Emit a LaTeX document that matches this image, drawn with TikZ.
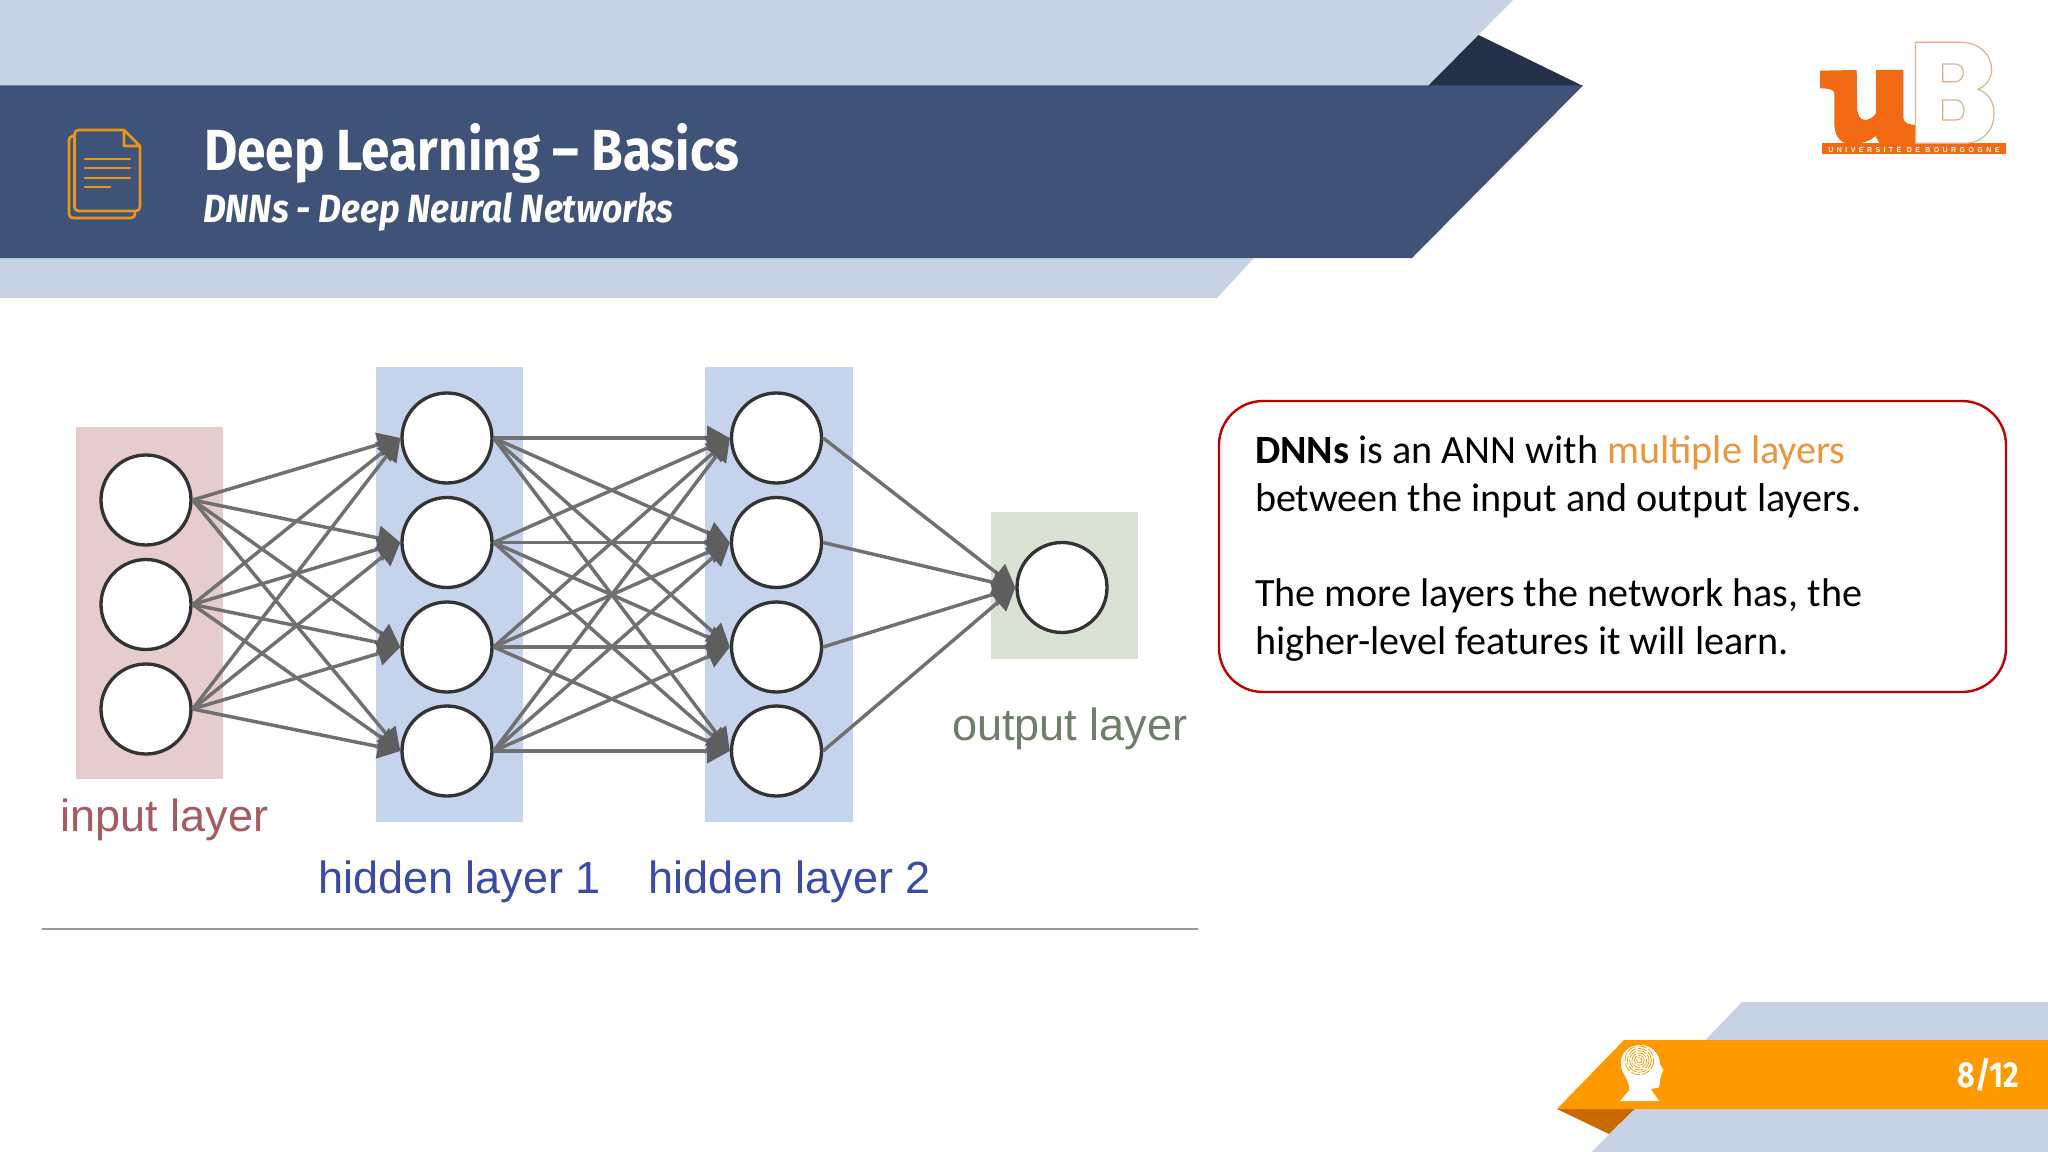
\documentclass[tikz,border=0pt]{standalone}
\usepackage{fontspec}
\usetikzlibrary{arrows.meta}
\setmainfont{Carlito}
\newfontfamily\ttlfont[FakeStretch=0.885]{Fira Sans}
\newfontfamily\subfont[FakeStretch=0.9]{Fira Sans}
\newfontfamily\pagefont[FakeStretch=0.84]{Fira Sans}
\newfontfamily\arialfont{Liberation Sans}
\newfontfamily\logofont[LetterSpace=48]{Liberation Sans}
\definecolor{bandlight}{HTML}{C7D3E5}
\definecolor{bandmain}{HTML}{3F5277}
\definecolor{banddark}{HTML}{243048}
\definecolor{footorange}{HTML}{FF9900}
\definecolor{footdark}{HTML}{C96A00}
\definecolor{iconorange}{HTML}{E8961E}
\definecolor{logoorange}{HTML}{F26A14}
\definecolor{logoedge}{HTML}{E2AE90}
\definecolor{inputbg}{HTML}{E6CCCC}
\definecolor{hiddenbg}{HTML}{C5D3EC}
\definecolor{outputbg}{HTML}{DAE2D3}
\definecolor{inputtxt}{HTML}{A85A62}
\definecolor{hiddentxt}{HTML}{3A4AA8}
\definecolor{outputtxt}{HTML}{6F7D6B}
\definecolor{edgegray}{HTML}{707070}
\definecolor{headgray}{HTML}{5E5E5E}
\definecolor{boxred}{HTML}{C00000}
\definecolor{hlorange}{HTML}{E9973A}
\tikzset{
  neuron/.style={circle,draw=black!80,line width=2.5pt,fill=white,minimum size=67.5pt,inner sep=0pt},
  netedge/.style={draw=edgegray,line width=2.6pt,-{Triangle[length=17pt,width=18pt,fill=headgray,color=headgray]},shorten >=0pt},
  plainlabel/.style={anchor=base west,inner sep=0pt,outer sep=0pt},
  netlabel/.style={plainlabel,font=\arialfont\fontsize{33.8}{40}\selectfont},
  bodytext/.style={plainlabel,font=\fontsize{30.1}{36}\selectfont},
  docline/.style={draw=iconorange,line width=2pt,line cap=round},
}
\begin{document}
\begin{tikzpicture}[x=0.75pt,y=-0.75pt]
\useasboundingbox (0,0) rectangle (2048,1152);
\fill[white] (0,0) rectangle (2048,1152);
% header
\fill[bandlight] (0,0) -- (1513,0) -- (1428,86) -- (0,86) -- cycle;
\fill[bandlight] (0,258) -- (1254,258) -- (1217,298) -- (0,298) -- cycle;
\fill[banddark] (1478.5,35) -- (1583,86) -- (1428,86) -- cycle;
\fill[bandmain] (0,85.5) -- (1583,85.5) -- (1412,258) -- (0,258) -- cycle;
% doc icon
\draw[iconorange,line width=2pt,rounded corners=3pt] (74.5,136) -- (69,136) -- (69,218) -- (135,218) -- (135,211);
\draw[iconorange,line width=2pt,line join=round,rounded corners=3pt] (124,130) -- (74.5,130) -- (74.5,211) -- (140,211) -- (140,146);
\draw[iconorange,line width=2pt,line join=round] (124,130) -- (140,146) -- (124,146) -- cycle;
\draw[docline] (85,159) -- (130,159);
\draw[docline] (85,168) -- (130,168);
\draw[docline] (85,178) -- (130,178);
\draw[docline] (85,187) -- (110,187);
\node[plainlabel,text=white,font=\ttlfont\bfseries\fontsize{43.5}{50}\selectfont] (title) at (204,171) {Deep Learning – Basics};
\node[plainlabel,text=white,font=\subfont\bfseries\itshape\fontsize{29.5}{36}\selectfont] (subtitle) at (203,222) {DNNs - Deep Neural Networks};
% logo
\begin{scope}[shift={(1800,30)},x=0.25pt,y=-0.25pt]
\fill[logoorange] (60,122) -- (170,120) -- (172,240) .. controls (175,275) and (205,280) .. (228,250) -- (228,120) -- (310,120) -- (310,265) .. controls (312,280) and (330,285) .. (350,285) -- (350,342) -- (240,342) -- (226,318) .. controls (210,335) and (180,342) .. (150,342) .. controls (115,340) and (103,310) .. (103,280) -- (103,190) .. controls (103,178) and (85,175) .. (60,175) -- cycle;
\fill[logoorange] (65,340) rectangle (617,372);
\filldraw[fill=white,draw=logoedge,line width=0.9pt,even odd rule] (346,340) -- (346,37) -- (480,37) .. controls (540,37) and (575,75) .. (575,120) .. controls (575,145) and (560,165) .. (535,178) .. controls (565,190) and (582,215) .. (582,250) .. controls (582,305) and (545,340) .. (490,340) -- cycle
 (428,102) -- (465,102) .. controls (482,102) and (490,115) .. (490,128) .. controls (490,143) and (480,155) .. (465,155) -- (428,155) -- cycle
 (428,210) -- (468,210) .. controls (484,210) and (492,225) .. (492,240) .. controls (492,258) and (484,270) .. (468,270) -- (428,270) -- cycle;
\node[inner sep=0pt,text=white,font=\logofont\bfseries\fontsize{5.3}{6}\selectfont] (univ) at (342,357) {UNIVERSITÉ DE BOURGOGNE};
\end{scope}
% layer backgrounds
\fill[inputbg] (76,426.5) rectangle (222.5,778.6);
\fill[hiddenbg] (376,366.5) rectangle (523,821.5);
\fill[hiddenbg] (705,366.5) rectangle (853,821.5);
\fill[outputbg] (990.5,512) rectangle (1138,659);
% neurons
\node[neuron] (i1) at (146,500) {};
\node[neuron] (i2) at (146,604.5) {};
\node[neuron] (i3) at (146,709) {};
\node[neuron] (a1) at (447,438) {};
\node[neuron] (a2) at (447,542.5) {};
\node[neuron] (a3) at (447,647) {};
\node[neuron] (a4) at (447,751) {};
\node[neuron] (b1) at (776.5,438) {};
\node[neuron] (b2) at (776.5,542.5) {};
\node[neuron] (b3) at (776.5,647) {};
\node[neuron] (b4) at (776.5,751) {};
\node[neuron] (o1) at (1062,587.5) {};
\foreach \s in {1,2,3} \foreach \t in {1,2,3,4} \draw[netedge] (i\s.east) -- (a\t.west);
\foreach \s in {1,2,3,4} \foreach \t in {1,2,3,4} \draw[netedge] (a\s.east) -- (b\t.west);
\foreach \s in {1,2,3,4} \draw[netedge] (b\s.east) -- (o1.west);
% labels
\node[netlabel,text=inputtxt] (linput) at (60.6,831.5) {input layer};
\node[netlabel,text=hiddentxt] (lh1) at (318,893) {hidden layer 1};
\node[netlabel,text=hiddentxt] (lh2) at (648,893) {hidden layer 2};
\node[netlabel,text=outputtxt] (loutput) at (952,740) {output layer};
\draw[color=black!40,line width=1.5pt] (42,929) -- (1198,929);
% text box
\draw[boxred,line width=1.8pt,rounded corners=33pt] (1219,401) rectangle (2006,692);
\node[bodytext] (t1) at (1255,463) {\textbf{DNNs} is an ANN with \textcolor{hlorange}{multiple layers}};
\node[bodytext] (t2) at (1255,511) {between the input and output layers.};
\node[bodytext] (t3) at (1255,606) {The more layers the network has, the};
\node[bodytext] (t4) at (1255,654) {higher-level features it will learn.};
% footer
\fill[bandlight] (1742,1002) -- (2048,1002) -- (2048,1041) -- (1704.5,1041) -- cycle;
\fill[bandlight] (1634.5,1109) -- (2048,1109) -- (2048,1152) -- (1591.6,1152) -- cycle;
\fill[footdark] (1557,1109) -- (1634.5,1109) -- (1609,1134) -- cycle;
\fill[footorange] (1624,1040) -- (2048,1040) -- (2048,1109) -- (1557,1109) -- cycle;
\begin{scope}[shift={(1610,1035)},x=0.25pt,y=-0.25pt]
\fill[white] (90,30) .. controls (55,30) and (32,55) .. (32,85) .. controls (32,115) and (58,130) .. (58,165) -- (30,198) -- (147,198) -- (122,162) -- (145,158) .. controls (152,150) and (148,135) .. (152,125) -- (160,105) -- (150,88) .. controls (148,55) and (125,30) .. (90,30) -- cycle;
\begin{scope}
\clip (30,30) rectangle (150,120);
\foreach \r in {8,15,22,29,36,43}
  \draw[footorange,line width=0.55pt,dash pattern=on 7pt off 1.2pt] (88,76) circle[radius=\r];
\end{scope}
\end{scope}
\node[anchor=base east,inner sep=0pt,text=white,font=\pagefont\bfseries\fontsize{27}{32}\selectfont] (page) at (2019,1087) {8/12};
\end{tikzpicture}
\end{document}
